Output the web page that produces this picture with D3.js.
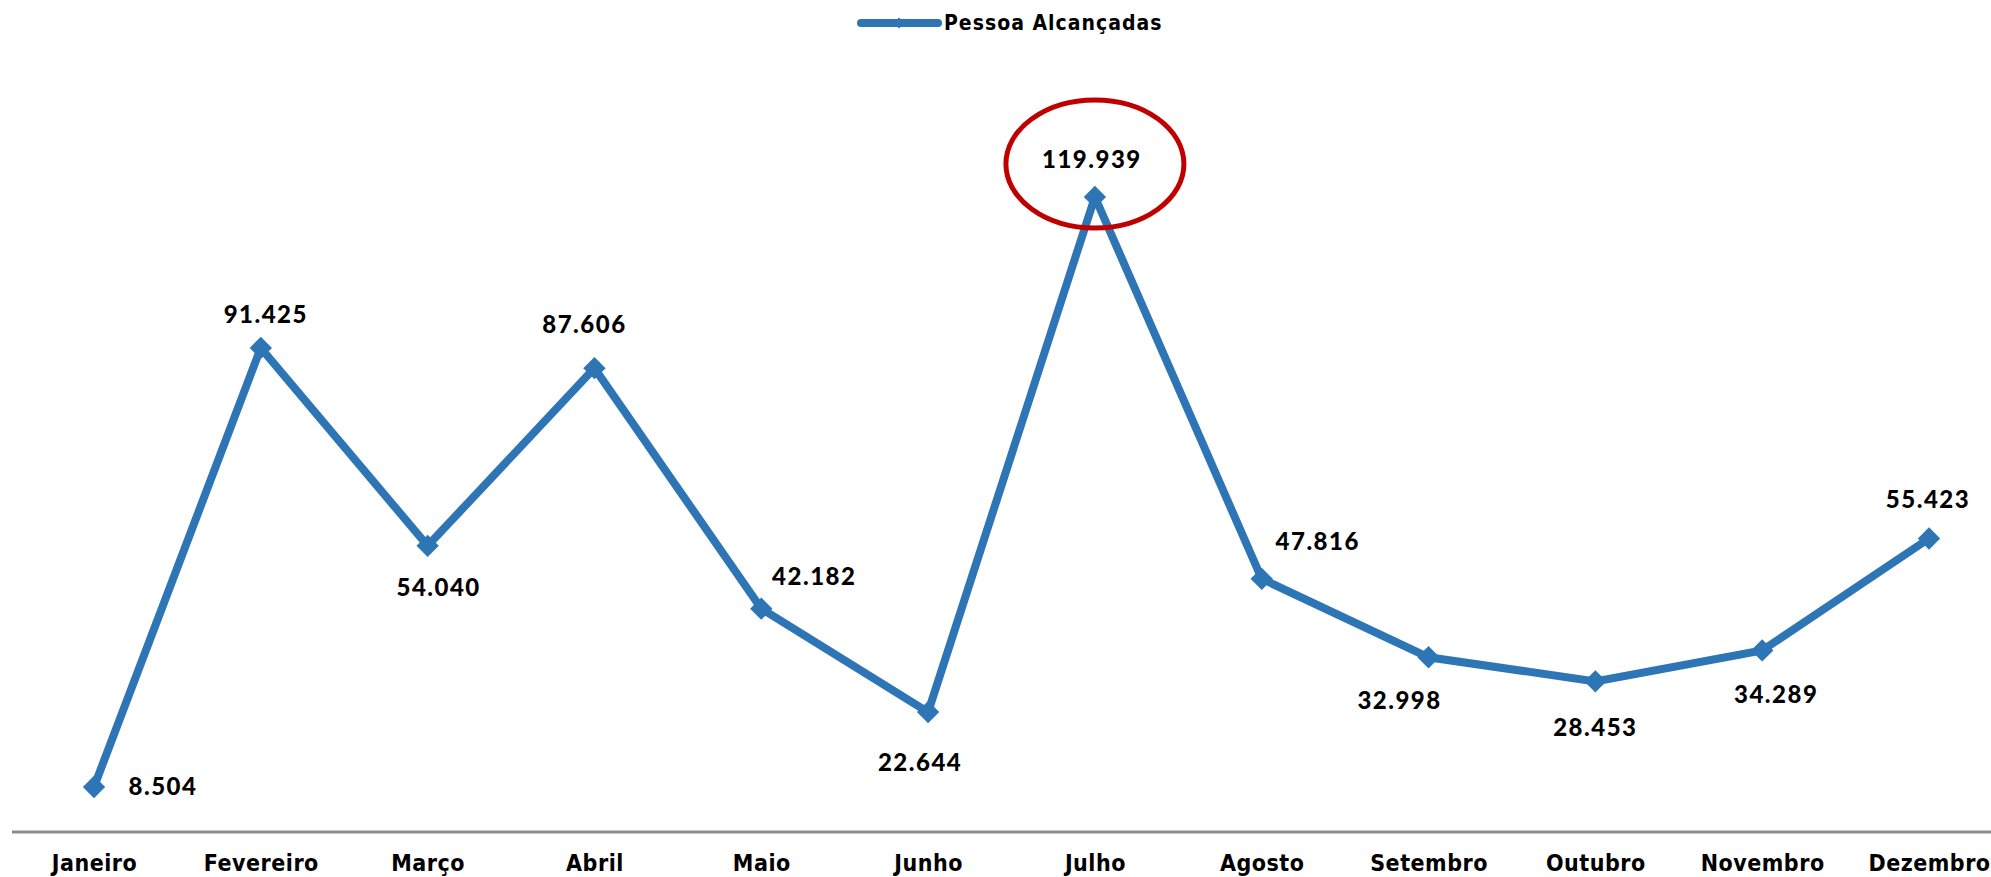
<!DOCTYPE html>
<html>
<head>
<meta charset="utf-8">
<script src="https://cdn.jsdelivr.net/npm/d3@7"></script>
<style>
  body { margin: 0; background: #fff; }
</style>
</head>
<body>
<script>
const months = ["Janeiro", "Fevereiro", "Março", "Abril", "Maio", "Junho", "Julho", "Agosto", "Setembro", "Outubro", "Novembro", "Dezembro"]
const values = [8504, 91425, 54040, 87606, 42182, 22644, 119939, 47816, 32998, 28453, 34289, 55423]
const seriesName = "Pessoa Alcançadas"
// label offsets from each point (dx, dy)
const labelDx = [69, 5, 11, -10, 53, -8, -3, 56, -29, 0, 14, -1]
const labelDy = [0, -33, 42, -44, -32, 50, -37, -37, 43, 46, 44, -39]

const width = 1991, height = 877
const blue = "#2e75b6"

const x = d3.scalePoint()
  .domain(months)
  .range([94, 1929])

const y = d3.scaleLinear()
  .domain([0, 140000])
  .range([832, 90.7])

const svg = d3.select("body").append("svg")
  .attr("width", width)
  .attr("height", height)

// x axis
const xAxis = g => g
  .attr("transform", `translate(0,${y(0)})`)
  .call(d3.axisBottom(x).tickSize(0).tickPadding(23))
  .call(g => g.select(".domain").remove())
  .call(g => g.selectAll("text")
    .attr("font-family", "'DejaVu Sans Condensed', 'DejaVu Sans', sans-serif")
    .attr("font-stretch", "condensed")
    .attr("font-weight", "bold")
    .attr("font-size", 23)
    .attr("letter-spacing", 0.5)
    .attr("fill", "#000"))

svg.append("line")
  .attr("x1", 12).attr("x2", width)
  .attr("y1", y(0)).attr("y2", y(0))
  .attr("stroke", "#8c8c8c")
  .attr("stroke-width", 3)

svg.append("g").call(xAxis)

const line = d3.line()
  .x((d, i) => x(months[i]))
  .y(d => y(d))

svg.append("path")
  .datum(values)
  .attr("fill", "none")
  .attr("stroke", blue)
  .attr("stroke-width", 8)
  .attr("stroke-linejoin", "miter")
  .attr("d", line)

const diamond = d3.symbol().type(d3.symbolSquare).size(250)

svg.append("g")
  .selectAll("path")
  .data(values)
  .join("path")
    .attr("transform", (d, i) => `translate(${x(months[i])},${y(d)}) rotate(45)`)
    .attr("d", diamond)
    .attr("fill", blue)

svg.append("g")
  .attr("font-family", "Lato, sans-serif")
  .attr("font-weight", 900)
  .attr("font-size", 24)
  .attr("letter-spacing", 1.5)
  .attr("text-anchor", "middle")
  .selectAll("text")
  .data(values)
  .join("text")
    .attr("x", (d, i) => x(months[i]) + labelDx[i])
    .attr("y", (d, i) => y(d) + labelDy[i])
    .attr("dy", "0.35em")
    .text(d => d3.format(",")(d).replace(/,/g, "."))

// highlight the peak
const maxIdx = d3.maxIndex(values)
svg.append("ellipse")
  .attr("cx", x(months[maxIdx]))
  .attr("cy", y(values[maxIdx]) - 33)
  .attr("rx", 89)
  .attr("ry", 64)
  .attr("fill", "none")
  .attr("stroke", "#c00000")
  .attr("stroke-width", 5)

// legend
const legend = svg.append("g")
  .attr("transform", "translate(861,23)")

legend.append("line")
  .attr("x1", 0).attr("x2", 77)
  .attr("stroke", blue)
  .attr("stroke-width", 8)
  .attr("stroke-linecap", "round")

legend.append("path")
  .attr("transform", "translate(38,0) rotate(45)")
  .attr("d", d3.symbol().type(d3.symbolSquare).size(60))
  .attr("fill", blue)

legend.append("text")
  .attr("x", 83)
  .attr("dy", "0.35em")
  .attr("font-family", "'DejaVu Sans Condensed', 'DejaVu Sans', sans-serif")
  .attr("font-stretch", "condensed")
  .attr("font-weight", "bold")
  .attr("font-size", 21)
  .attr("letter-spacing", 1)
  .text(seriesName)
</script>
</body>
</html>
